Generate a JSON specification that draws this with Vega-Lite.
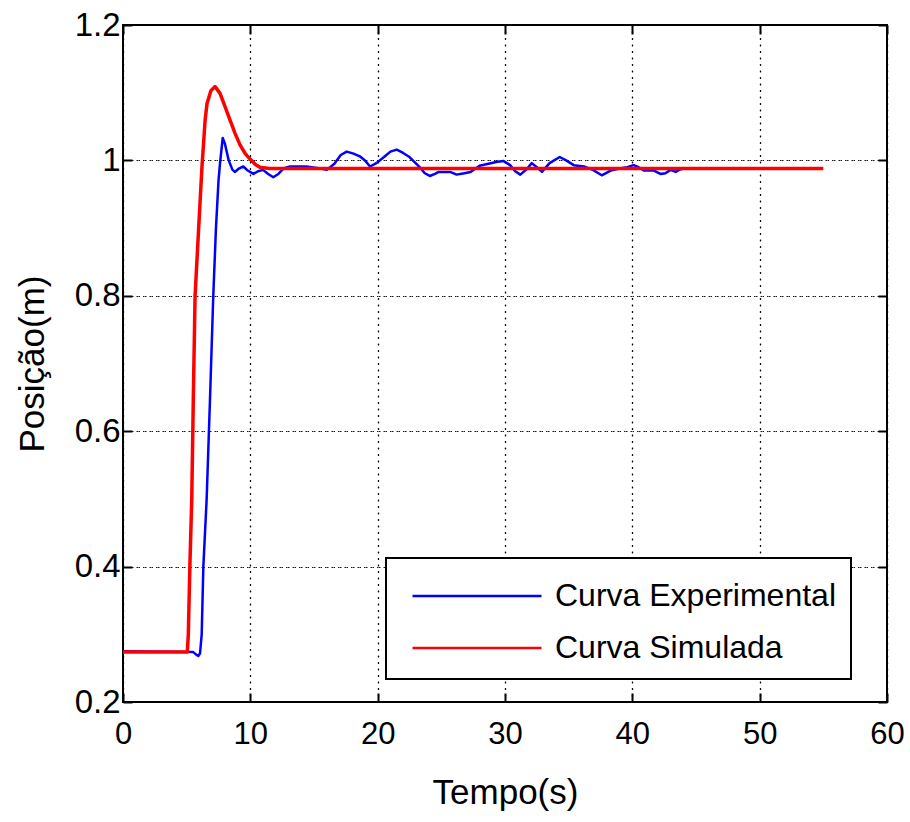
{
  "$schema": "https://vega.github.io/schema/vega-lite/v6.json",
  "autosize": "none",
  "width": 764,
  "height": 677,
  "padding": {"left": 123, "top": 25, "right": 23, "bottom": 120},
  "background": "white",
  "config": {
    "view": {"stroke": "black", "strokeWidth": 2},
    "font": "Liberation Sans",
    "axis": {
      "domain": false,
      "tickColor": "black",
      "tickWidth": 2,
      "tickSize": -9,
      "labelColor": "black",
      "labelFont": "Liberation Sans",
      "labelFontSize": 31,
      "titleFont": "Liberation Sans",
      "titleFontSize": 35,
      "titleFontWeight": "normal",
      "titleColor": "black",
      "gridColor": "black",
      "gridDash": [1.5, 5],
      "gridWidth": 1.2,
      "gridOpacity": 0.9
    }
  },
  "datasets": {
    "exp": [
      {"t": 0, "v": 0.275, "s": "Curva Experimental"},
      {"t": 5.5, "v": 0.274, "s": "Curva Experimental"},
      {"t": 5.75, "v": 0.27, "s": "Curva Experimental"},
      {"t": 5.92, "v": 0.268, "s": "Curva Experimental"},
      {"t": 6.05, "v": 0.272, "s": "Curva Experimental"},
      {"t": 6.18, "v": 0.3, "s": "Curva Experimental"},
      {"t": 6.31, "v": 0.4, "s": "Curva Experimental"},
      {"t": 6.57, "v": 0.5, "s": "Curva Experimental"},
      {"t": 6.83, "v": 0.646, "s": "Curva Experimental"},
      {"t": 7.09, "v": 0.8, "s": "Curva Experimental"},
      {"t": 7.3, "v": 0.9, "s": "Curva Experimental"},
      {"t": 7.5, "v": 0.97, "s": "Curva Experimental"},
      {"t": 7.62, "v": 0.996, "s": "Curva Experimental"},
      {"t": 7.83, "v": 1.033, "s": "Curva Experimental"},
      {"t": 8.0, "v": 1.025, "s": "Curva Experimental"},
      {"t": 8.3, "v": 1.0, "s": "Curva Experimental"},
      {"t": 8.6, "v": 0.986, "s": "Curva Experimental"},
      {"t": 8.8, "v": 0.983, "s": "Curva Experimental"},
      {"t": 9.1, "v": 0.988, "s": "Curva Experimental"},
      {"t": 9.45, "v": 0.991, "s": "Curva Experimental"},
      {"t": 9.8, "v": 0.985, "s": "Curva Experimental"},
      {"t": 10.24, "v": 0.98, "s": "Curva Experimental"},
      {"t": 10.6, "v": 0.984, "s": "Curva Experimental"},
      {"t": 11.0, "v": 0.986, "s": "Curva Experimental"},
      {"t": 11.4, "v": 0.98, "s": "Curva Experimental"},
      {"t": 11.8, "v": 0.975, "s": "Curva Experimental"},
      {"t": 12.2, "v": 0.98, "s": "Curva Experimental"},
      {"t": 12.6, "v": 0.988, "s": "Curva Experimental"},
      {"t": 13.1, "v": 0.991, "s": "Curva Experimental"},
      {"t": 14.4, "v": 0.991, "s": "Curva Experimental"},
      {"t": 15.5, "v": 0.988, "s": "Curva Experimental"},
      {"t": 16.0, "v": 0.986, "s": "Curva Experimental"},
      {"t": 16.6, "v": 0.995, "s": "Curva Experimental"},
      {"t": 17.1, "v": 1.008, "s": "Curva Experimental"},
      {"t": 17.57, "v": 1.013, "s": "Curva Experimental"},
      {"t": 18.1, "v": 1.01, "s": "Curva Experimental"},
      {"t": 18.6, "v": 1.006, "s": "Curva Experimental"},
      {"t": 19.0, "v": 1.0, "s": "Curva Experimental"},
      {"t": 19.4, "v": 0.991, "s": "Curva Experimental"},
      {"t": 19.9, "v": 0.996, "s": "Curva Experimental"},
      {"t": 20.5, "v": 1.005, "s": "Curva Experimental"},
      {"t": 21.0, "v": 1.013, "s": "Curva Experimental"},
      {"t": 21.5, "v": 1.016, "s": "Curva Experimental"},
      {"t": 22.0, "v": 1.011, "s": "Curva Experimental"},
      {"t": 22.5, "v": 1.005, "s": "Curva Experimental"},
      {"t": 23.3, "v": 0.99, "s": "Curva Experimental"},
      {"t": 23.7, "v": 0.981, "s": "Curva Experimental"},
      {"t": 24.1, "v": 0.977, "s": "Curva Experimental"},
      {"t": 24.5, "v": 0.98, "s": "Curva Experimental"},
      {"t": 24.8, "v": 0.983, "s": "Curva Experimental"},
      {"t": 25.7, "v": 0.983, "s": "Curva Experimental"},
      {"t": 26.2, "v": 0.979, "s": "Curva Experimental"},
      {"t": 26.8, "v": 0.981, "s": "Curva Experimental"},
      {"t": 27.3, "v": 0.983, "s": "Curva Experimental"},
      {"t": 28.0, "v": 0.992, "s": "Curva Experimental"},
      {"t": 28.7, "v": 0.995, "s": "Curva Experimental"},
      {"t": 29.4, "v": 0.998, "s": "Curva Experimental"},
      {"t": 29.9, "v": 0.999, "s": "Curva Experimental"},
      {"t": 30.4, "v": 0.993, "s": "Curva Experimental"},
      {"t": 30.8, "v": 0.984, "s": "Curva Experimental"},
      {"t": 31.2, "v": 0.979, "s": "Curva Experimental"},
      {"t": 31.7, "v": 0.987, "s": "Curva Experimental"},
      {"t": 32.1, "v": 0.996, "s": "Curva Experimental"},
      {"t": 32.5, "v": 0.99, "s": "Curva Experimental"},
      {"t": 32.9, "v": 0.983, "s": "Curva Experimental"},
      {"t": 33.5, "v": 0.996, "s": "Curva Experimental"},
      {"t": 34.3, "v": 1.005, "s": "Curva Experimental"},
      {"t": 34.8, "v": 1.0, "s": "Curva Experimental"},
      {"t": 35.4, "v": 0.993, "s": "Curva Experimental"},
      {"t": 36.2, "v": 0.991, "s": "Curva Experimental"},
      {"t": 36.9, "v": 0.986, "s": "Curva Experimental"},
      {"t": 37.6, "v": 0.978, "s": "Curva Experimental"},
      {"t": 38.3, "v": 0.985, "s": "Curva Experimental"},
      {"t": 39.0, "v": 0.988, "s": "Curva Experimental"},
      {"t": 39.6, "v": 0.99, "s": "Curva Experimental"},
      {"t": 40.1, "v": 0.993, "s": "Curva Experimental"},
      {"t": 40.5, "v": 0.99, "s": "Curva Experimental"},
      {"t": 40.9, "v": 0.985, "s": "Curva Experimental"},
      {"t": 41.7, "v": 0.985, "s": "Curva Experimental"},
      {"t": 42.2, "v": 0.98, "s": "Curva Experimental"},
      {"t": 42.6, "v": 0.981, "s": "Curva Experimental"},
      {"t": 43.0, "v": 0.986, "s": "Curva Experimental"},
      {"t": 43.4, "v": 0.983, "s": "Curva Experimental"},
      {"t": 43.8, "v": 0.987, "s": "Curva Experimental"},
      {"t": 44.1, "v": 0.988, "s": "Curva Experimental"}
    ],
    "sim": [
      {"t": 0, "v": 0.274, "s": "Curva Simulada"},
      {"t": 5.05, "v": 0.274, "s": "Curva Simulada"},
      {"t": 5.13, "v": 0.3, "s": "Curva Simulada"},
      {"t": 5.25, "v": 0.4, "s": "Curva Simulada"},
      {"t": 5.4, "v": 0.5, "s": "Curva Simulada"},
      {"t": 5.52, "v": 0.646, "s": "Curva Simulada"},
      {"t": 5.66, "v": 0.8, "s": "Curva Simulada"},
      {"t": 5.97, "v": 0.91, "s": "Curva Simulada"},
      {"t": 6.2, "v": 0.99, "s": "Curva Simulada"},
      {"t": 6.45, "v": 1.06, "s": "Curva Simulada"},
      {"t": 6.6, "v": 1.084, "s": "Curva Simulada"},
      {"t": 6.9, "v": 1.103, "s": "Curva Simulada"},
      {"t": 7.23, "v": 1.109, "s": "Curva Simulada"},
      {"t": 7.62, "v": 1.099, "s": "Curva Simulada"},
      {"t": 8.0, "v": 1.08, "s": "Curva Simulada"},
      {"t": 8.4, "v": 1.06, "s": "Curva Simulada"},
      {"t": 8.8, "v": 1.04, "s": "Curva Simulada"},
      {"t": 9.19, "v": 1.023, "s": "Curva Simulada"},
      {"t": 9.6, "v": 1.01, "s": "Curva Simulada"},
      {"t": 9.98, "v": 1.002, "s": "Curva Simulada"},
      {"t": 10.4, "v": 0.994, "s": "Curva Simulada"},
      {"t": 10.76, "v": 0.99, "s": "Curva Simulada"},
      {"t": 11.5, "v": 0.988, "s": "Curva Simulada"},
      {"t": 55, "v": 0.988, "s": "Curva Simulada"}
    ]
  },
  "resolve": {"axis": {"x": "independent", "y": "independent"}},
  "layer": [
    {
      "data": {"name": "exp"},
      "mark": {"type": "line", "strokeWidth": 2.5, "strokeJoin": "round"},
      "encoding": {
        "x": {"field": "t", "type": "quantitative", "scale": {"domain": [0, 60], "nice": false, "zero": false},
              "axis": {"orient": "bottom", "values": [0, 10, 20, 30, 40, 50, 60], "title": "Tempo(s)", "labelPadding": 26, "titlePadding": 26, "labelFlush": false}},
        "y": {"field": "v", "type": "quantitative", "scale": {"domain": [0.2, 1.2], "nice": false, "zero": false},
              "axis": {"orient": "left", "values": [0.2, 0.4, 0.6, 0.8, 1, 1.2], "format": ".1~f", "title": "Posição(m)", "labelPadding": 12, "labelFontSize": 33, "titlePadding": 24, "labelFlush": false}},
        "color": {"field": "s", "type": "nominal",
                  "scale": {"domain": ["Curva Experimental", "Curva Simulada"], "range": ["#0000ff", "#ff0000"]},
                  "legend": {"orient": "none", "legendX": 263, "legendY": 533, "title": null,
                             "symbolType": "M-3,0H3", "symbolSize": 1849, "symbolStrokeWidth": 2.5,
                             "symbolFillColor": "transparent",
                             "symbolOffset": 53, "labelOffset": 55, "labelLimit": 500,
                             "labelFont": "Liberation Sans", "labelFontSize": 32, "labelColor": "black",
                             "labelExpr": "datum.label + '      '",
                             "padding": 15, "rowPadding": 13,
                             "strokeColor": "black", "fillColor": "white",
                             "encode": {"legend": {"update": {"strokeWidth": {"value": 2}}}}}}
      }
    },
    {
      "data": {"name": "sim"},
      "mark": {"type": "line", "strokeWidth": 3.5, "strokeJoin": "round"},
      "encoding": {
        "x": {"field": "t", "type": "quantitative", "axis": null},
        "y": {"field": "v", "type": "quantitative", "axis": null},
        "color": {"field": "s", "type": "nominal"}
      }
    },
    {
      "data": {"name": "sim"},
      "mark": {"type": "point", "opacity": 0},
      "encoding": {
        "x": {"field": "t", "type": "quantitative",
              "axis": {"orient": "top", "values": [0, 10, 20, 30, 40, 50, 60], "labels": false, "title": null, "grid": true}},
        "y": {"field": "v", "type": "quantitative",
              "axis": {"orient": "right", "values": [0.2, 0.4, 0.6, 0.8, 1, 1.2], "labels": false, "title": null, "grid": true}}
      }
    }
  ]
}
